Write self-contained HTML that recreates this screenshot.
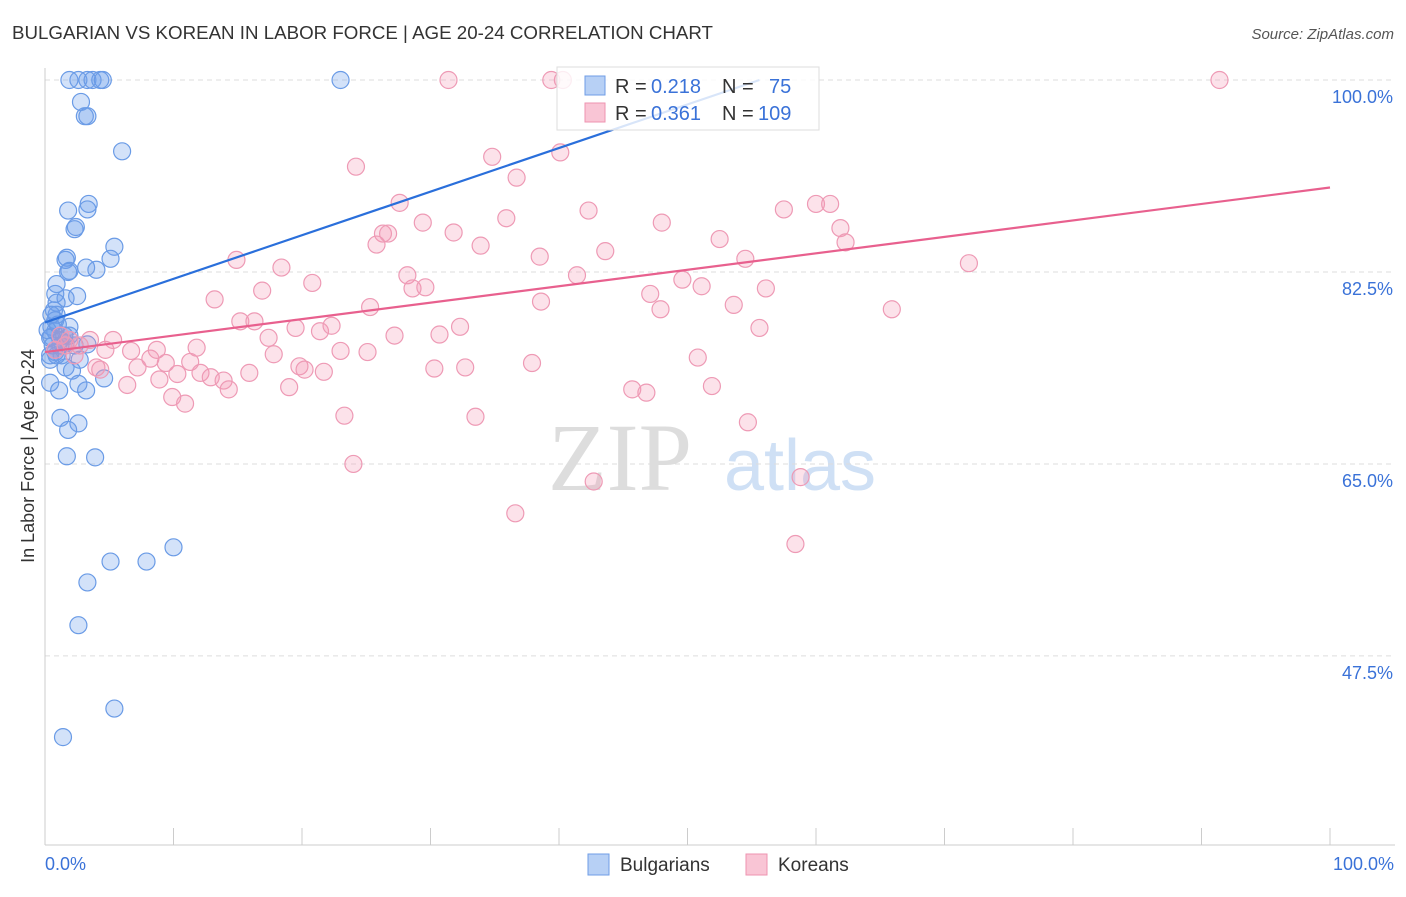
<!DOCTYPE html>
<html><head><meta charset="utf-8"><style>
body{margin:0;background:#fff;font-family:"Liberation Sans",sans-serif;}
</style></head><body>
<svg width="1406" height="892" xmlns="http://www.w3.org/2000/svg">
<text x="12" y="39" font-size="18.5" fill="#333" textLength="701" lengthAdjust="spacingAndGlyphs">BULGARIAN VS KOREAN IN LABOR FORCE | AGE 20-24 CORRELATION CHART</text>
<text x="1394" y="39" font-size="15" fill="#555" font-style="italic" text-anchor="end">Source: ZipAtlas.com</text>
<text x="620" y="490" font-size="96" fill="#ddd" font-family="Liberation Serif,serif" text-anchor="middle">ZIP</text>
<text x="800" y="490" font-size="72" fill="#cfe0f5" text-anchor="middle">atlas</text>
<g id="grid"></g>
<line x1="45" y1="68" x2="45" y2="845" stroke="#ccc"/>
<line x1="45" y1="845" x2="1395" y2="845" stroke="#ccc"/>
<g id="xticks"></g>
<text x="45" y="870" font-size="18" fill="#3a72d8">0.0%</text>
<text x="1394" y="870" font-size="18" fill="#3a72d8" text-anchor="end">100.0%</text>
<text transform="translate(34,456) rotate(-90)" font-size="18" fill="#333" text-anchor="middle">In Labor Force | Age 20-24</text>
<g id="points"></g>
<g id="lines"></g>
<g>
<rect x="557" y="67" width="262" height="63" fill="rgba(255,255,255,0.82)" stroke="#ddd"/>
<rect x="585" y="76" width="20" height="19" fill="#b7d0f5" stroke="#6f9de6"/>
<rect x="585" y="103" width="20" height="19" fill="#f9c5d5" stroke="#ee93b0"/>
<text x="615" y="93" font-size="20" fill="#333">R =</text>
<text x="651" y="93" font-size="20" fill="#3a72d8">0.218</text>
<text x="722" y="93" font-size="20" fill="#333">N =</text>
<text x="769" y="93" font-size="20" fill="#3a72d8">75</text>
<text x="615" y="120" font-size="20" fill="#333">R =</text>
<text x="651" y="120" font-size="20" fill="#3a72d8">0.361</text>
<text x="722" y="120" font-size="20" fill="#333">N =</text>
<text x="758" y="120" font-size="20" fill="#3a72d8">109</text>
</g>
<g>
<rect x="588" y="854" width="21" height="21" fill="#b7d0f5" stroke="#6f9de6"/>
<text x="620" y="871" font-size="19" fill="#333">Bulgarians</text>
<rect x="746" y="854" width="21" height="21" fill="#f9c5d5" stroke="#ee93b0"/>
<text x="778" y="871" font-size="19" fill="#333">Koreans</text>
</g>
</svg>
<script>
const yTicks=[100,82.5,65,47.5];
const yTickLabels=["100.0%","82.5%","65.0%","47.5%"];
const blueX=[1.9,2.6,3.3,3.7,4.3,4.5,23.0,2.8,3.1,3.3,6.0,1.8,3.4,3.3,2.3,2.4,5.4,1.6,1.7,5.1,1.8,1.9,4.0,3.2,0.9,0.8,2.5,1.6,0.9,0.7,0.9,1.9,0.5,0.8,0.5,0.4,1.2,1.6,3.3,0.8,0.4,1.3,0.4,1.6,2.1,4.6,0.4,2.6,1.1,3.2,1.2,2.6,1.8,1.7,3.9,5.1,7.9,10.0,3.3,2.6,5.4,1.4,0.8,1.2,1.9,0.2,0.6,1.0,1.5,2.3,0.5,0.9,2.7];
const blueY=[100,100,100,100,100,100,100,98.0,96.7,96.7,93.5,88.1,88.7,88.2,86.4,86.6,84.8,83.6,83.8,83.7,82.5,82.6,82.7,82.9,81.4,80.5,80.3,80.1,79.7,79.0,78.6,77.5,77.5,77.1,76.6,76.5,76.3,76.0,75.9,75.2,74.9,74.9,74.5,73.8,73.5,72.8,72.4,72.3,71.7,71.7,69.2,68.7,68.1,65.7,65.6,56.1,56.1,57.4,54.2,50.3,42.7,40.1,78.1,75.8,76.7,77.2,75.8,77.7,76.7,75.8,78.6,74.9,74.5];
const pinkX=[31.4,39.4,40.3,91.4,40.1,34.8,24.2,36.7,27.6,42.3,35.9,29.4,48.0,57.5,60.0,61.1,61.9,62.3,52.5,26.3,26.7,31.8,33.9,25.8,38.5,43.6,14.9,18.4,16.9,20.8,28.2,28.6,29.6,41.4,49.6,51.1,54.5,56.1,71.9,13.2,38.6,47.1,47.9,53.6,65.9,25.3,15.2,16.3,19.5,21.4,22.3,27.2,30.7,32.3,55.6,17.4,5.3,3.5,4.7,6.7,8.7,11.8,17.8,23.0,25.1,50.8,37.9,8.2,9.4,11.3,7.2,10.3,12.1,12.9,13.9,19.8,20.2,21.7,30.3,32.7,15.9,4.0,4.3,6.4,8.9,14.3,19.0,45.7,46.8,51.9,9.9,10.9,23.3,33.5,54.7,24.0,42.7,58.8,36.6,58.4,1.9,2.7,2.3,1.2,1.6,0.8];
const pinkY=[100,100,100,100,93.4,93.0,92.1,91.1,88.8,88.1,87.4,87.0,87.0,88.2,88.7,88.7,86.5,85.2,85.5,86.0,86.0,86.1,84.9,85.0,83.9,84.4,83.6,82.9,80.8,81.5,82.2,81.0,81.1,82.2,81.8,81.2,83.7,81.0,83.3,80.0,79.8,80.5,79.1,79.5,79.1,79.3,78.0,78.0,77.4,77.1,77.6,76.7,76.8,77.5,77.4,76.5,76.3,76.3,75.4,75.3,75.4,75.6,75.0,75.3,75.2,74.7,74.2,74.6,74.2,74.3,73.8,73.2,73.3,72.9,72.6,73.9,73.6,73.4,73.7,73.8,73.3,73.8,73.6,72.2,72.7,71.8,72.0,71.8,71.5,72.1,71.1,70.5,69.4,69.3,68.8,65.0,63.4,63.8,60.5,57.7,76.3,75.8,74.9,76.7,75.8,75.4];
const blueTrend=[[0,77.9],[55.6,100]];
const pinkTrend=[[0,75.2],[100,90.2]];
const NS="http://www.w3.org/2000/svg";
const xs=v=>45+v*12.85, ys=v=>80+(100-v)*10.97;
function mk(t,a,p){const e=document.createElementNS(NS,t);for(const k in a)e.setAttribute(k,a[k]);p.appendChild(e);return e;}
const grid=document.getElementById('grid');
yTicks.forEach((t,i)=>{
 const l=mk('line',{x1:45,x2:1395,y1:ys(t),y2:ys(t),stroke:'#ddd','stroke-dasharray':'5,4'},grid);
 
 
 const tx=mk('text',{x:1393,y:ys(t)+23,'font-size':18,fill:'#3a72d8','text-anchor':'end'},grid);
 tx.textContent=yTickLabels[i];
 
 
});
const xt=document.getElementById('xticks');
for(let i=0;i<=10;i++){
 const l=mk('line',{x1:xs(i*10),x2:xs(i*10),y1:828,y2:845,stroke:'#ccc'},xt);
 
 
}
const pts=document.getElementById('points');
blueX.forEach((x,i)=>{
 const c=mk('circle',{cx:xs(x),cy:ys(blueY[i]),r:8.5,fill:'rgba(110,160,235,0.3)',stroke:'#6a9be6','stroke-width':1.2},pts);
 
 
});
pinkX.forEach((x,i)=>{
 const c=mk('circle',{cx:xs(x),cy:ys(pinkY[i]),r:8.5,fill:'rgba(244,150,180,0.28)',stroke:'#ee9ab5','stroke-width':1.2},pts);
 
 
});
const ln=document.getElementById('lines');
const bl=mk('line',{x1:xs(blueTrend[0][0]),y1:ys(blueTrend[0][1]),x2:xs(blueTrend[1][0]),y2:ys(blueTrend[1][1]),stroke:'#2a6fdb','stroke-width':2.2},ln);


const pl=mk('line',{x1:xs(pinkTrend[0][0]),y1:ys(pinkTrend[0][1]),x2:xs(pinkTrend[1][0]),y2:ys(pinkTrend[1][1]),stroke:'#e8608e','stroke-width':2.2},ln);


</script>
</body></html>
